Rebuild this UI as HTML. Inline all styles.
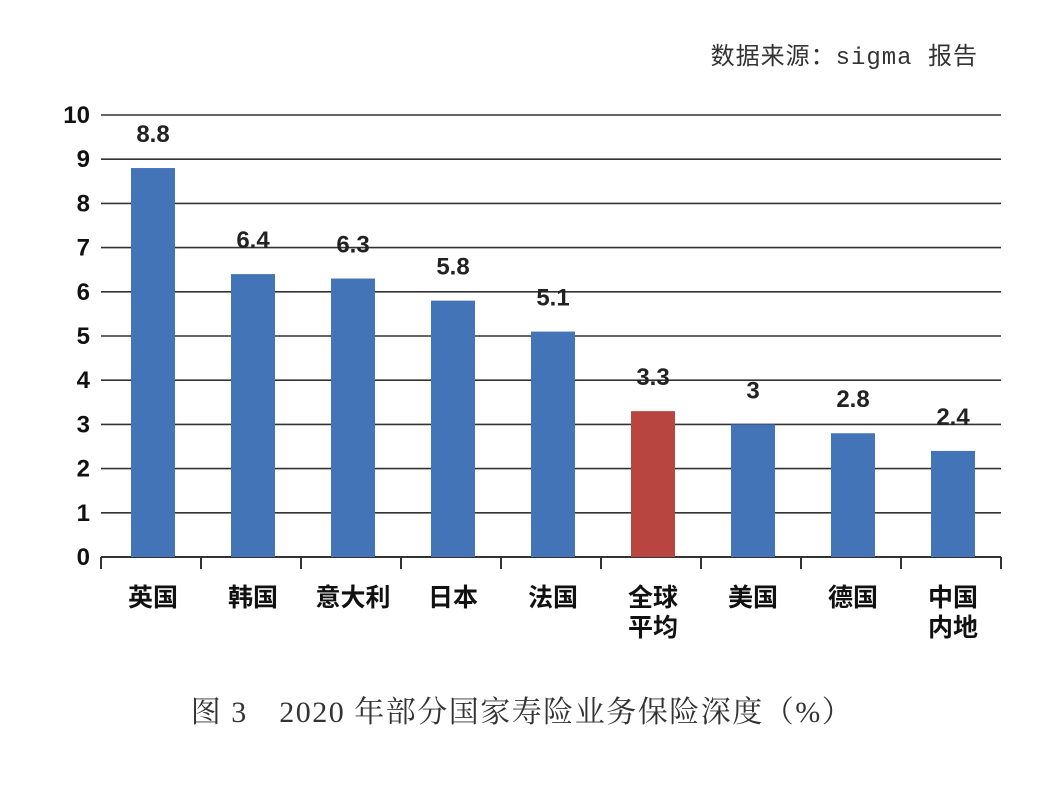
<!DOCTYPE html>
<html><head><meta charset="utf-8">
<style>
html,body{margin:0;padding:0;background:#fff;}
svg{display:block;}
text{font-family:"Liberation Sans","Noto Sans CJK SC",sans-serif;}
</style></head>
<body>
<svg id="chart" width="1064" height="786" viewBox="0 0 1064 786" xmlns="http://www.w3.org/2000/svg">
<text x="978" y="64" text-anchor="end" font-size="24" fill="#333" style="font-family:'Liberation Mono','Noto Sans CJK SC',monospace;letter-spacing:1px">数据来源：sigma 报告</text>
<g id="grid"></g>
<g id="bars"></g>
<g id="labels"></g>
<text x="522" y="722" text-anchor="middle" font-size="30" fill="#333" style="font-family:'Liberation Serif','Noto Serif CJK SC',serif;letter-spacing:1.5px">图 3　2020 年部分国家寿险业务保险深度（%）</text>
</svg>
<script>
const categories = [["英国"],["韩国"],["意大利"],["日本"],["法国"],["全球","平均"],["美国"],["德国"],["中国","内地"]];
const values = [8.8, 6.4, 6.3, 5.8, 5.1, 3.3, 3.0, 2.8, 2.4];
const valueLabels = ["8.8","6.4","6.3","5.8","5.1","3.3","3","2.8","2.4"];
const highlight = [false,false,false,false,false,true,false,false,false];
const yTicks = [0,1,2,3,4,5,6,7,8,9,10];

const NS = "http://www.w3.org/2000/svg";
const x0 = 101, step = 100, y0 = 557, yTop = 115, yMax = 10, barW = 44, xEnd = 1001;
const yScale = v => y0 - (v / yMax) * (y0 - yTop);
const xCenter = i => x0 + step * i + step / 2 + 2;
function mk(tag, attrs, parent){const e=document.createElementNS(NS,tag);for(const k in attrs)e.setAttribute(k,attrs[k]);parent.appendChild(e);return e;}
const grid = document.getElementById('grid'), bars = document.getElementById('bars'), labels = document.getElementById('labels');

yTicks.forEach(t => {
  const y = yScale(t);
  const l = mk('line',{x1:x0,x2:xEnd,y1:y,y2:y,stroke:'#333','stroke-width':t===0?2:1.6},grid);
  
  
  const tx = mk('text',{x:90,y:y+8,'text-anchor':'end','font-size':24,'font-weight':'bold',fill:'#111'},grid);
  tx.textContent = t;
  
  
});
for (let i = 0; i <= categories.length; i++) {
  const x = x0 + step * i;
  const tk = mk('line',{x1:x,x2:x,y1:y0,y2:y0+12,stroke:'#333','stroke-width':2},grid);
  
  
}
values.forEach((v, i) => {
  const cx = xCenter(i), y = yScale(v);
  const r = mk('rect',{x:cx-barW/2,y:y,width:barW,height:y0-y,fill:highlight[i]?'#b8453f':'#4474b8'},bars);
  
  
  const vl = mk('text',{x:cx,y:y-26,'text-anchor':'middle','font-size':24,'font-weight':'bold',fill:'#222'},labels);
  vl.textContent = valueLabels[i];
  
  
  categories[i].forEach((line, j) => {
    const cl = mk('text',{x:cx,y:606+j*30,'text-anchor':'middle','font-size':25,'font-weight':'bold',fill:'#111'},labels);
    cl.textContent = line;
    
    
  });
});
</script>
</body></html>
